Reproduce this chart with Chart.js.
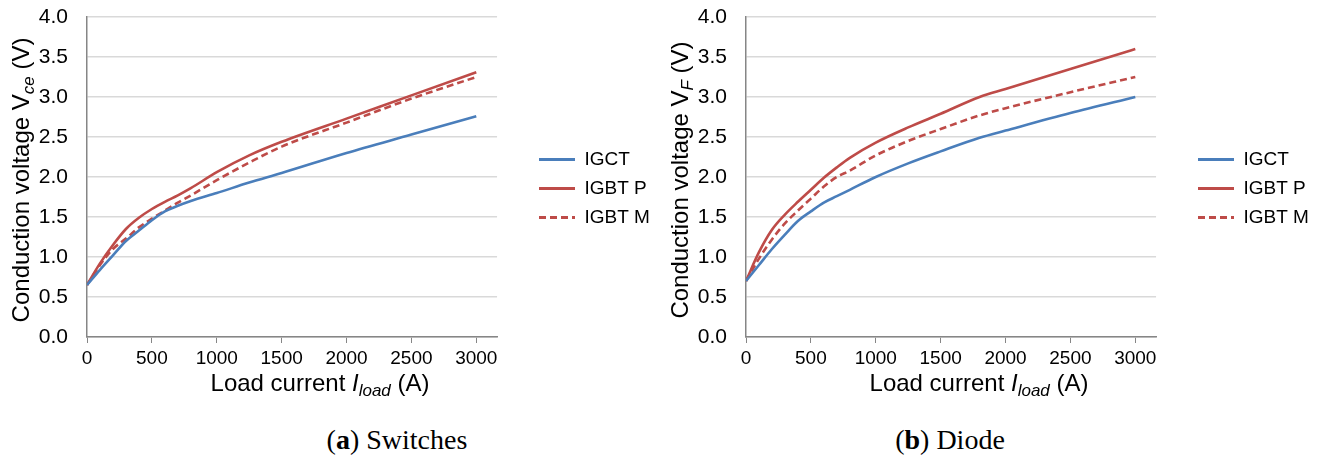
<!DOCTYPE html>
<html>
<head>
<meta charset="utf-8">
<script src="https://cdn.jsdelivr.net/npm/chart.js@4.4.1/dist/chart.umd.min.js"></script>
<style>
    body {
        margin: 0;
        background: #fff;
        width: 1317px;
        height: 459px;
        overflow: hidden;
        position: relative;
    }
    .panel {
        position: absolute;
        top: 0;
        width: 659px;
        height: 410px;
    }
    .caption {
        position: absolute;
        top: 420px;
        width: 300px;
        text-align: center;
        font-family: "Liberation Serif", "Times New Roman", serif;
        font-size: 28px;
        line-height: 40px;
        color: #000;
    }
</style>
</head>
<body>
<div class="panel" style="left:0"><canvas id="switches"></canvas></div>
<div class="panel" style="left:659px"><canvas id="diode"></canvas></div>
<div class="caption" style="left:247px">(<b>a</b>) Switches</div>
<div class="caption" style="left:800px">(<b>b</b>) Diode</div>

<script>
// load current (A)
const currentSwitch = [0, 100, 200, 300, 400, 500, 600, 700, 800, 1000, 1250, 1500, 2000, 2500, 3000];
const igctSwitch = [0.65, 0.84, 1.02, 1.20, 1.33, 1.46, 1.57, 1.64, 1.70, 1.80, 1.93, 2.05, 2.30, 2.53, 2.76];
const igbtPSwitch = [0.65, 0.92, 1.15, 1.35, 1.49, 1.60, 1.69, 1.77, 1.86, 2.06, 2.27, 2.44, 2.73, 3.02, 3.31];
const igbtMSwitch = [0.65, 0.90, 1.10, 1.23, 1.37, 1.48, 1.58, 1.68, 1.77, 1.96, 2.18, 2.38, 2.68, 2.98, 3.25];

const currentDiode = [0, 100, 200, 300, 400, 500, 600, 700, 800, 1000, 1250, 1500, 1800, 2000, 2500, 3000];
const igctDiode = [0.70, 0.90, 1.10, 1.28, 1.45, 1.57, 1.68, 1.76, 1.84, 2.00, 2.17, 2.32, 2.49, 2.58, 2.80, 3.00];
const igbtPDiode = [0.70, 1.06, 1.34, 1.53, 1.69, 1.84, 1.99, 2.12, 2.24, 2.43, 2.62, 2.79, 3.00, 3.10, 3.35, 3.60];
const igbtMDiode = [0.70, 0.98, 1.22, 1.42, 1.58, 1.73, 1.88, 2.00, 2.08, 2.27, 2.45, 2.60, 2.77, 2.86, 3.06, 3.25];

const seriesNames = ["IGCT", "IGBT P", "IGBT M"];
const yTicks = [0, 0.5, 1, 1.5, 2, 2.5, 3, 3.5, 4];
const xTicks = [0, 500, 1000, 1500, 2000, 2500, 3000];

const BLUE = "#4a7ebb";
const RED = "#be4b48";
const FONT = "'Liberation Sans', Arial, sans-serif";

function drawParts(ctx, parts, x, y) {
    // parts: [text, size, italic, dy]
    let widths = parts.map(p => {
        ctx.font = (p[2] ? "italic " : "") + p[1] + "px " + FONT;
        return ctx.measureText(p[0]).width;
    });
    let total = widths.reduce((a, b) => a + b, 0);
    let cx = x - total / 2;
    parts.forEach((p, i) => {
        ctx.font = (p[2] ? "italic " : "") + p[1] + "px " + FONT;
        ctx.fillText(p[0], cx, y + (p[3] || 0));
        cx += widths[i];
    });
}

const axisTitles = {
    id: "axisTitles",
    afterDraw(chart, args, opts) {
        const ctx = chart.ctx;
        ctx.save();
        ctx.fillStyle = "#000";
        ctx.textBaseline = "alphabetic";
        ctx.textAlign = "left";
        drawParts(ctx, opts.x, opts.xPos, opts.xBase);
        ctx.translate(opts.yBase, opts.yPos);
        ctx.rotate(-Math.PI / 2);
        drawParts(ctx, opts.y, 0, 0);
        ctx.restore();
    }
};

const legendPlace = {
    id: "legendPlace",
    afterLayout(chart, args, opts) {
        const lg = chart.legend;
        const w = lg.width, h = lg.height;
        lg.left = opts.left;
        lg.right = opts.left + w;
        lg.top = opts.top;
        lg.bottom = opts.top + h;
    }
};

function makeChart(canvas, current, values, ySub) {
    const styles = [
        { color: BLUE, dash: [] },
        { color: RED, dash: [] },
        { color: RED, dash: [7, 4] }
    ];

    return new Chart(canvas, {
        type: "line",

        data: {
            datasets: values.map((v, i) => ({
                label: seriesNames[i],
                data: current.map((x, j) => ({ x: x, y: v[j] })),
                borderColor: styles[i].color,
                backgroundColor: styles[i].color,
                borderDash: styles[i].dash,
                borderWidth: 2.6,
                pointRadius: 0,
                pointStyle: "line",
                cubicInterpolationMode: "monotone",
                fill: false
            }))
        },

        options: {
            responsive: true,
            maintainAspectRatio: false,
            animation: false,
            layout: {
                padding: { top: 17, right: 31, bottom: 0, left: 0 }
            },

            plugins: {
                tooltip: { enabled: false },
                legend: {
                    position: "right",
                    align: "start",
                    labels: {
                        usePointStyle: true,
                        pointStyleWidth: 36,
                        padding: 10,
                        color: "#000",
                        font: { family: FONT, size: 19 },
                        generateLabels(chart) {
                            return chart.data.datasets.map((ds, i) => ({
                                text: ds.label,
                                fillStyle: ds.borderColor,
                                strokeStyle: ds.borderColor,
                                fontColor: "#000",
                                lineWidth: 3,
                                lineDash: ds.borderDash,
                                pointStyle: "line",
                                hidden: false,
                                datasetIndex: i
                            }));
                        }
                    }
                },
                legendPlace: { left: 529, top: 140 },
                axisTitles: {
                    x: [["Load current ", 24], ["I", 24, true], ["load", 17, true, 5], [" (A)", 24]],
                    xPos: 320,
                    xBase: 391,
                    y: [["Conduction voltage V", 24], [ySub, 17, true, 5], [" (V)", 24]],
                    yPos: 180,
                    yBase: 29
                }
            },

            scales: {
                x: {
                    type: "linear",
                    min: 0,
                    max: 3160,
                    afterFit(scale) { scale.height = 73; },
                    afterBuildTicks(scale) {
                        scale.ticks = xTicks.map(v => ({ value: v }));
                    },
                    grid: {
                        drawOnChartArea: false,
                        color: "#868686",
                        tickLength: 6
                    },
                    border: { color: "#868686", width: 1.5 },
                    ticks: {
                        color: "#000",
                        padding: 4,
                        maxRotation: 0,
                        font: { family: FONT, size: 19 },
                        callback: v => String(v)
                    }
                },

                y: {
                    min: 0,
                    max: 4,
                    afterFit(scale) { scale.width = 87; },
                    afterBuildTicks(scale) {
                        scale.ticks = yTicks.map(v => ({ value: v }));
                    },
                    grid: {
                        color: "#d9d9d9",
                        lineWidth: 1.5,
                        drawTicks: true,
                        tickLength: 17,
                        tickColor: "rgba(0,0,0,0)"
                    },
                    border: { color: "#868686", width: 1.5 },
                    ticks: {
                        color: "#000",
                        padding: 2,
                        font: { family: FONT, size: 21 },
                        callback: v => v.toFixed(1)
                    }
                }
            }
        },

        plugins: [axisTitles, legendPlace]
    });
}

makeChart(document.getElementById("switches"), currentSwitch,
    [igctSwitch, igbtPSwitch, igbtMSwitch], "ce");

makeChart(document.getElementById("diode"), currentDiode,
    [igctDiode, igbtPDiode, igbtMDiode], "F");
</script>
</body>
</html>
